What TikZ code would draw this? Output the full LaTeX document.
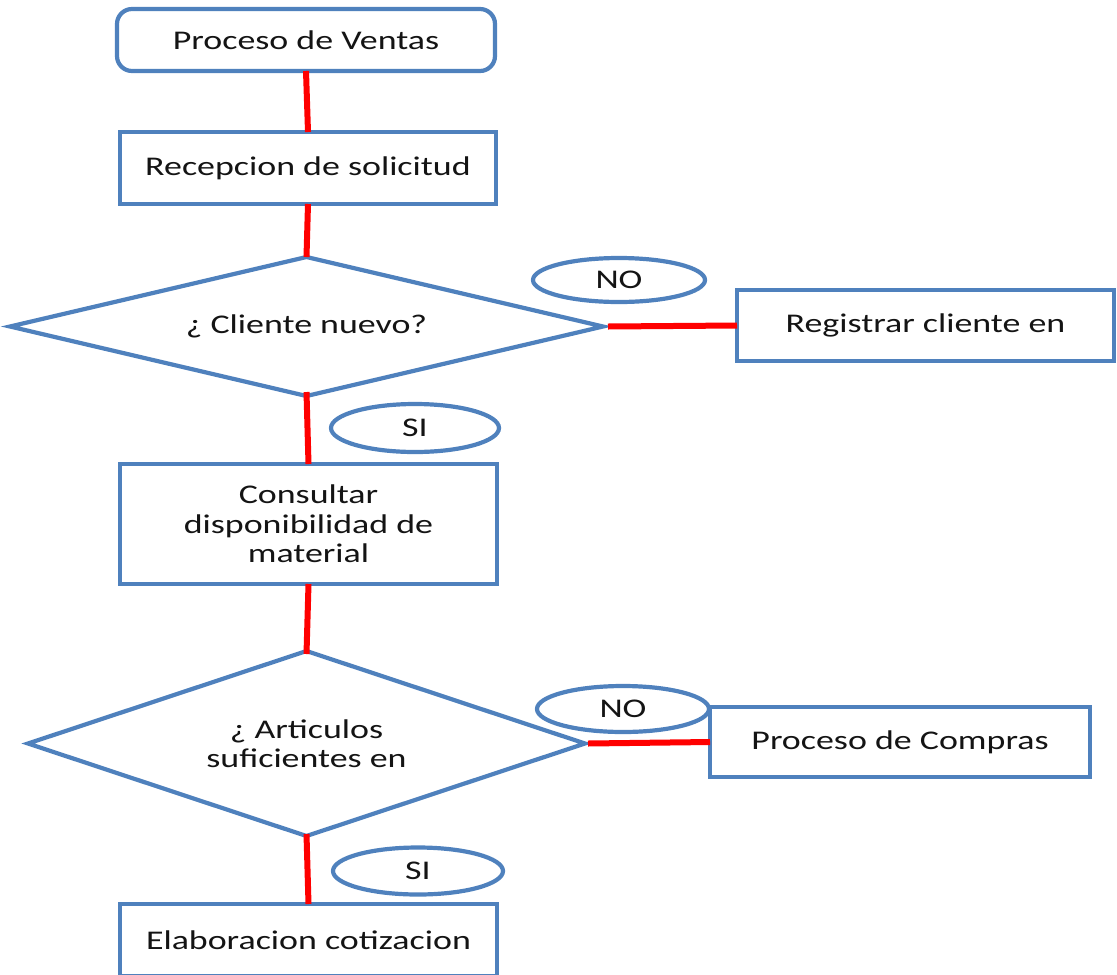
\documentclass[tikz,border=0pt]{standalone}
\usepackage{fontspec}
\setmainfont[FakeStretch=1.33]{Carlito}
\usetikzlibrary{shapes.geometric}
\definecolor{boxblue}{RGB}{79,129,189}
\definecolor{txt}{RGB}{20,20,20}
\begin{document}
\begin{tikzpicture}[x=1pt,y=-1pt,
  every node/.style={text=txt,font=\fontsize{27}{29.5}\selectfont,align=center,inner sep=0pt,outer sep=0pt},
  stepbox/.style={draw=boxblue,line width=4.2pt,fill=white},
  roundbox/.style={stepbox,rounded corners=15pt},
  decision/.style={draw=boxblue,line width=4.2pt,fill=white,shape=diamond},
  answer/.style={draw=boxblue,line width=4.2pt,fill=white,shape=ellipse},
  redline/.style={draw=red,line width=6pt}]
\useasboundingbox (0,0) rectangle (1117,975);
\clip (0,0) rectangle (1117,975);

% main column centres
\coordinate (c1) at (306,40);
\coordinate (c2) at (308,168);
\coordinate (c3) at (306.5,326.5);
\coordinate (c4) at (308.5,524);
\coordinate (c5) at (306.5,743.5);
\coordinate (c6) at (308.5,940);

\node[roundbox,minimum width=378pt,minimum height=62pt] (ventas) at (c1) {Proceso de Ventas};
\node[stepbox,minimum width=376pt,minimum height=72pt] (recep) at (c2) {Recepcion de solicitud};
\node[decision,minimum width=593pt,minimum height=139pt,aspect=4.27] (nuevo) at (c3) {¿ Cliente nuevo?};
\node[stepbox,minimum width=377pt,minimum height=71pt] (registrar) at (925.5,325.5) {Registrar cliente en};
\node[stepbox,minimum width=377pt,minimum height=120pt] (consultar) at (c4) {Consultar\\disponibilidad de\\material};
\node[decision,minimum width=557pt,minimum height=185pt,aspect=3.01] (articulos) at (c5) {¿ Articulos\\suficientes en};
\node[stepbox,minimum width=380pt,minimum height=70pt] (compras) at (900,742) {Proceso de Compras};
\node[stepbox,minimum width=377pt,minimum height=72pt] (cotiza) at (c6) {Elaboracion cotizacion};

% red connectors
\draw[redline] (ventas.south) -- (recep.north);
\draw[redline] (recep.south) -- (nuevo.north);
\draw[redline] ([yshift=4pt]nuevo.south) -- (consultar.north);
\draw[redline] (consultar.south) -- ([yshift=-3pt]articulos.north);
\draw[redline] ([yshift=2pt]articulos.south) -- (cotiza.north);
\draw[redline] ([xshift=5pt]nuevo.east) -- (registrar.west);
\draw[redline] ([xshift=3pt]articulos.east) -- (compras.west);

% answer labels
\node[answer,minimum width=172pt,minimum height=44pt] (no1) at (619,280) {NO};
\node[answer,minimum width=168pt,minimum height=48pt] (si1) at (415,428) {SI};
\node[answer,minimum width=172pt,minimum height=46pt] (no2) at (623,709) {NO};
\node[answer,minimum width=170pt,minimum height=47pt] (si2) at (418,871) {SI};
\end{tikzpicture}
\end{document}
